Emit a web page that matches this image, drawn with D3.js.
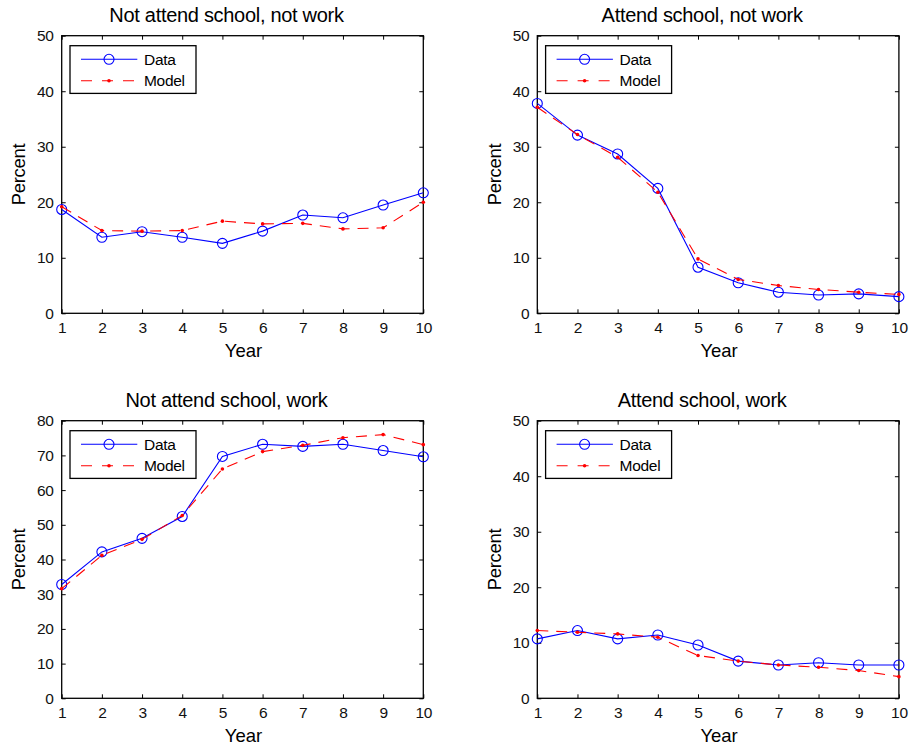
<!DOCTYPE html>
<html>
<head>
<meta charset="utf-8">
<script src="https://cdn.jsdelivr.net/npm/d3@7"></script>
<style>
  body { margin: 0; background: #fff; }
  svg { display: block; font-family: "Liberation Sans", Arial, sans-serif; }
</style>
</head>
<body>
<div id="chart"></div>
<script>
// Years on the x axis
const years = [1, 2, 3, 4, 5, 6, 7, 8, 9, 10];

// Panel titles
const titles = [
    "Not attend school, not work",
    "Attend school, not work",
    "Not attend school, work",
    "Attend school, work"
];

// Data series (blue circles) per panel
const dataNoSchoolNoWork = [18.7, 13.7, 14.7, 13.7, 12.6, 14.8, 17.7, 17.2, 19.5, 21.7];
const dataSchoolNoWork   = [37.8, 32.1, 28.7, 22.5, 8.3, 5.5, 3.8, 3.3, 3.5, 3.0];
const dataNoSchoolWork   = [32.8, 42.2, 46.1, 52.4, 69.7, 73.2, 72.6, 73.2, 71.4, 69.6];
const dataSchoolWork     = [10.7, 12.2, 10.7, 11.4, 9.6, 6.7, 6.0, 6.4, 6.0, 6.0];

// Model series (red dashed) per panel
const modelNoSchoolNoWork = [19.2, 14.9, 14.8, 14.9, 16.6, 16.1, 16.2, 15.2, 15.4, 20.0];
const modelSchoolNoWork   = [37.1, 32.2, 28.1, 21.8, 9.8, 6.1, 5.0, 4.3, 3.8, 3.4];
const modelNoSchoolWork   = [31.6, 41.2, 45.8, 52.7, 66.1, 71.1, 72.9, 75.1, 76.0, 73.1];
const modelSchoolWork     = [12.2, 11.9, 11.6, 11.0, 7.7, 6.7, 6.0, 5.6, 5.0, 3.9];

// y axis max per panel
const yMax = [50, 50, 80, 50];

const panels = [
    { title: titles[0], data: dataNoSchoolNoWork, model: modelNoSchoolNoWork, ymax: yMax[0] },
    { title: titles[1], data: dataSchoolNoWork,   model: modelSchoolNoWork,   ymax: yMax[1] },
    { title: titles[2], data: dataNoSchoolWork,   model: modelNoSchoolWork,   ymax: yMax[2] },
    { title: titles[3], data: dataSchoolWork,     model: modelSchoolWork,     ymax: yMax[3] }
];

const width = 909, height = 749;
const plotW = 361.6, plotH = 277.6;
const lefts = [61.7, 537.3], tops = [35.7, 420.7];

const svg = d3.select("#chart").append("svg")
    .attr("width", width)
    .attr("height", height);

panels.forEach((p, i) => {
    const px = lefts[i % 2], py = tops[Math.floor(i / 2)];
    const g = svg.append("g").attr("transform", `translate(${px},${py})`);

    const x = d3.scaleLinear().domain([1, 10]).range([0, plotW]);
    const y = d3.scaleLinear().domain([0, p.ymax]).range([plotH, 0]);
    const yTicks = d3.range(0, p.ymax + 1, 10);

    // Axes with inward ticks on all four sides
    g.append("g").attr("transform", `translate(0,${plotH})`)
        .call(d3.axisBottom(x).tickValues(years).tickSize(-4).tickPadding(9).tickFormat(d3.format("d")));
    g.append("g")
        .call(d3.axisLeft(y).tickValues(yTicks).tickSize(-4).tickPadding(8).tickFormat(d3.format("d")));
    g.append("g").call(d3.axisTop(x).tickValues(years).tickSize(-4).tickFormat(""));
    g.append("g").attr("transform", `translate(${plotW},0)`)
        .call(d3.axisRight(y).tickValues(yTicks).tickSize(-4).tickFormat(""));

    g.selectAll(".domain").remove();
    g.selectAll(".tick line").attr("stroke", "#000");
    g.selectAll(".tick text")
        .attr("fill", "#111")
        .style("font-size", "15.5px")
        .style("letter-spacing", "-0.3px")
        .style("font-family", "'Liberation Sans', Arial, sans-serif");

    g.append("rect")
        .attr("width", plotW).attr("height", plotH)
        .attr("fill", "none").attr("stroke", "#000").attr("stroke-width", 1.3);

    // Data line + circles
    const line = d3.line().x((d, j) => x(years[j])).y(d => y(d));

    g.append("path").datum(p.data)
        .attr("d", line)
        .attr("fill", "none").attr("stroke", "#0000ff").attr("stroke-width", 1.1);
    g.selectAll(".dpt").data(p.data).enter().append("circle")
        .attr("cx", (d, j) => x(years[j])).attr("cy", d => y(d)).attr("r", 5)
        .attr("fill", "none").attr("stroke", "#0000ff").attr("stroke-width", 1.1);

    // Model dashed line + dots
    g.append("path").datum(p.model)
        .attr("d", line)
        .attr("fill", "none").attr("stroke", "#ff0000").attr("stroke-width", 1.1)
        .attr("stroke-dasharray", "11,8");
    g.selectAll(".mpt").data(p.model).enter().append("circle")
        .attr("cx", (d, j) => x(years[j])).attr("cy", d => y(d)).attr("r", 1.8)
        .attr("fill", "#ff0000");

    // Title and axis labels
    g.append("text")
        .attr("x", plotW / 2 - 16).attr("y", -14)
        .attr("text-anchor", "middle")
        .style("font-size", "20px")
        .style("letter-spacing", "-0.3px")
        .text(p.title);
    g.append("text")
        .attr("x", plotW / 2 + 1).attr("y", plotH + 43.7)
        .attr("text-anchor", "middle")
        .style("font-size", "18.5px")
        .text("Year");
    g.append("text")
        .attr("transform", `translate(-36.7,${plotH / 2}) rotate(-90)`)
        .attr("text-anchor", "middle")
        .style("font-size", "18.5px")
        .style("letter-spacing", "-0.3px")
        .text("Percent");

    // Legend
    const lg = g.append("g").attr("transform", "translate(8.3,10)");
    lg.append("rect").attr("width", 126).attr("height", 47.7)
        .attr("fill", "#fff").attr("stroke", "#000").attr("stroke-width", 1.3);
    lg.append("line").attr("x1", 11).attr("x2", 67.3).attr("y1", 13.6).attr("y2", 13.6)
        .attr("stroke", "#0000ff").attr("stroke-width", 1.1);
    lg.append("circle").attr("cx", 39).attr("cy", 13.6).attr("r", 5)
        .attr("fill", "none").attr("stroke", "#0000ff").attr("stroke-width", 1.1);
    lg.append("line").attr("x1", 11).attr("x2", 67.3).attr("y1", 35).attr("y2", 35)
        .attr("stroke", "#ff0000").attr("stroke-width", 1.1).attr("stroke-dasharray", "11,10");
    lg.append("circle").attr("cx", 39).attr("cy", 35).attr("r", 1.8).attr("fill", "#ff0000");
    lg.append("text").attr("x", 74).attr("y", 13.6).attr("dy", "0.36em")
        .style("font-size", "15.5px").style("letter-spacing", "-0.3px").text("Data");
    lg.append("text").attr("x", 74).attr("y", 35).attr("dy", "0.36em")
        .style("font-size", "15.5px").style("letter-spacing", "-0.3px").text("Model");
});
</script>
</body>
</html>
